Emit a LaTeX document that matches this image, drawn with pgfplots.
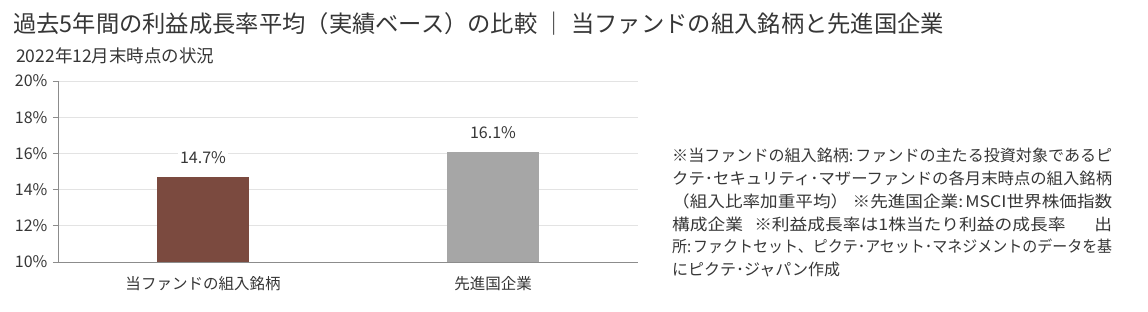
\documentclass[border=0pt]{standalone}
\usepackage{fontspec}
\setmainfont{Noto Sans CJK JP}
\usepackage{graphicx}
\usepackage{pgfplots}
\pgfplotsset{compat=1.18}
\definecolor{txt}{HTML}{363636}
\definecolor{barbrown}{HTML}{7B4A3F}
\definecolor{bargray}{HTML}{A6A6A6}
\definecolor{axgray}{HTML}{8C8C8C}
\definecolor{gridgray}{HTML}{E3E3E3}
\newcommand{\nl}[1]{\resizebox{440pt}{\height}{#1}}
\begin{document}
\begin{tikzpicture}[x=1pt,y=1pt]
\path[use as bounding box] (0,0) rectangle (1148,312);
\node[anchor=west, text=txt, inner sep=0pt, font=\fontsize{23.3}{27}\selectfont] at (13,312-24) {過去5年間の利益成長率平均（実績ベース）の比較 ｜ 当ファンドの組入銘柄と先進国企業};
\node[anchor=west, text=txt, inner sep=0pt, font=\fontsize{17.5}{20}\selectfont] at (16,312-56) {2022年12月末時点の状況};
\begin{axis}[
  at={(58pt,50pt)}, anchor=south west,
  scale only axis, width=580pt, height=181pt,
  ybar, bar width=92pt,
  xmin=-0.5, xmax=1.5, ymin=10, ymax=20,
  xtick={0,1}, xticklabels={当ファンドの組入銘柄,先進国企業},
  ytick={10,12,14,16,18,20},
  axis x line*=bottom, axis y line*=left,
  axis line style={draw=axgray, line width=0.8pt},
  ymajorgrids, grid style={draw=gridgray, line width=0.8pt},
  major x tick style={draw=none},
  major y tick style={draw=axgray, line width=0.8pt},
  tick align=outside, major tick length=5pt,
  /pgf/number format/assume math mode=true,
  yticklabel={\pgfmathprintnumber{\tick}\%},
  yticklabel style={font=\fontsize{16}{18}\selectfont, text=txt, xshift=-2pt},
  xticklabel style={font=\fontsize{15.5}{18}\selectfont, text=txt, yshift=-6pt},
  nodes near coords={\pgfmathprintnumber[fixed,precision=1,fixed zerofill]{\pgfplotspointmeta}\%},
  every node near coord/.append style={font=\fontsize{16}{18}\selectfont, text=txt, fill=white, inner sep=2pt, yshift=11pt},
  clip=false,
]
\addplot[fill=barbrown, draw=none, bar shift=0pt] coordinates {(0,14.7)};
\addplot[fill=bargray, draw=none, bar shift=0pt] coordinates {(1,16.1)};
\end{axis}
\node[anchor=north west, text=txt, inner sep=0pt, align=left, font=\fontsize{16}{22.8}\selectfont] at (672,312-148) {\nl{※当ファンドの組入銘柄:\kern2pt ファンドの主たる投資対象であるピ}\\\nl{クテ･セキュリティ･マザーファンドの各月末時点の組入銘柄}\\\nl{（組入比率加重平均）\kern4pt ※先進国企業:\kern2pt MSCI世界株価指数}\\\nl{構成企業\kern10pt ※利益成長率は1株当たり利益の成長率\kern26pt 出}\\\nl{所:\kern2pt ファクトセット、ピクテ･アセット･マネジメントのデータを基}\\にピクテ･ジャパン作成};
\end{tikzpicture}
\end{document}
